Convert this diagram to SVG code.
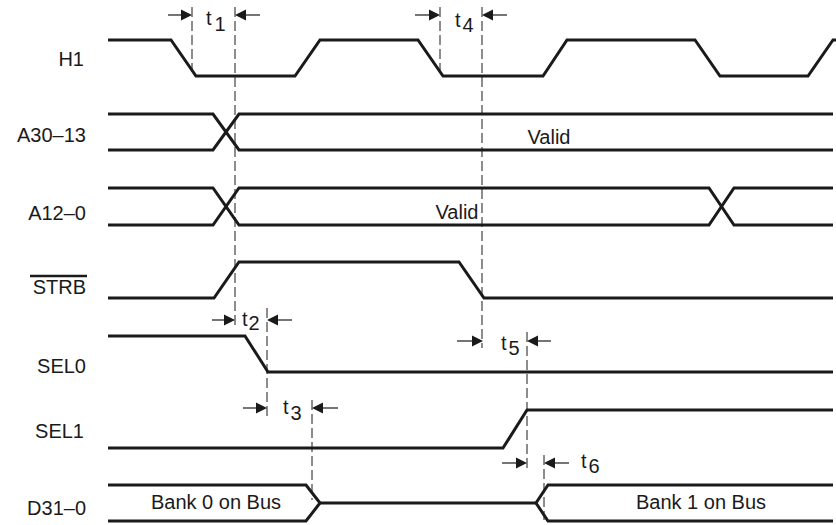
<svg xmlns="http://www.w3.org/2000/svg" width="836" height="525" viewBox="0 0 836 525">
<style>
.sig{fill:none;stroke:#1a1a1a;stroke-width:3;stroke-linejoin:miter}
.dash{fill:none;stroke:#1a1a1a;stroke-width:1;stroke-dasharray:10 4}
.sh{stroke:#1a1a1a;stroke-width:1.2}
.hd{fill:#1a1a1a}
.lbl{font-family:"Liberation Sans",Arial,sans-serif;font-size:20px;fill:#1a1a1a;text-anchor:end}
.txt{font-family:"Liberation Sans",Arial,sans-serif;font-size:20px;fill:#1a1a1a}
.mid{text-anchor:middle}
</style>
<rect width="836" height="525" fill="#fff"/>
<g id="labels">
<text class="lbl" x="84" y="66">H1</text>
<text class="lbl" x="86" y="142">A30–13</text>
<text class="lbl" x="86" y="220">A12–0</text>
<text class="lbl" x="86" y="294">STRB</text>
<line x1="30" y1="276" x2="87" y2="276" stroke="#1a1a1a" stroke-width="2.5"/>
<text class="lbl" x="86" y="373">SEL0</text>
<text class="lbl" x="84" y="438">SEL1</text>
<text class="lbl" x="86" y="515">D31–0</text>
</g>
<g id="H1">
<polyline class="sig" points="108,40 171,40 196,76 295,76 320,40 418,40 443,76 543,76 567,40 695,40 720,76 808,76 833,40 836,40"/>
</g>
<g id="A30-13">
<polyline class="sig" points="108,114 213,114 239,150 833,150"/>
<polyline class="sig" points="108,150 213,150 239,114 833,114"/>
<text class="txt mid" x="549" y="144">Valid</text>
</g>
<g id="A12-0">
<polyline class="sig" points="108,188 213,188 239,225 709,225 734,188 833,188"/>
<polyline class="sig" points="108,225 213,225 239,188 709,188 734,225 833,225"/>
<text class="txt mid" x="457" y="219">Valid</text>
</g>
<g id="STRB">
<polyline class="sig" points="108,298 214,298 239,262 459,262 484,298 833,298"/>
</g>
<g id="SEL0">
<polyline class="sig" points="108,336 245,336 268,372 833,372"/>
</g>
<g id="SEL1">
<polyline class="sig" points="108,448 503,448 527,410 833,410"/>
</g>
<g id="D31-0">
<polyline class="sig" points="108,485 306,485 320,503 306,521 108,521"/>
<polyline class="sig" points="320,503 536,503"/>
<polyline class="sig" points="833,485 548,485 536,503 548,521 833,521"/>
<text class="txt mid" x="216" y="509">Bank 0 on Bus</text>
<text class="txt mid" x="701" y="509">Bank 1 on Bus</text>
</g>
<g id="connectors">
<line class="dash" x1="192" y1="7" x2="192" y2="72"/>
<line class="dash" x1="235" y1="7" x2="235" y2="328"/>
<line class="dash" x1="440" y1="7" x2="440" y2="72"/>
<line class="dash" x1="482" y1="7" x2="482" y2="348"/>
<line class="dash" x1="267" y1="308" x2="267" y2="418"/>
<line class="dash" x1="312" y1="400" x2="312" y2="500"/>
<line class="dash" x1="527" y1="332" x2="527" y2="472"/>
<line class="dash" x1="544" y1="455" x2="544" y2="520"/>
<line class="sh" x1="168" y1="15" x2="182" y2="15"/><polygon class="hd" points="181,9.5 192,15 181,20.5"/>
<line class="sh" x1="246" y1="15" x2="260" y2="15"/><polygon class="hd" points="246,9.5 235,15 246,20.5"/>
<line class="sh" x1="415" y1="15" x2="430" y2="15"/><polygon class="hd" points="429,9.5 440,15 429,20.5"/>
<line class="sh" x1="493" y1="15" x2="507" y2="15"/><polygon class="hd" points="493,9.5 482,15 493,20.5"/>
<line class="sh" x1="212" y1="320" x2="225" y2="320"/><polygon class="hd" points="224,314.5 235,320 224,325.5"/>
<line class="sh" x1="278" y1="320" x2="292" y2="320"/><polygon class="hd" points="278,314.5 267,320 278,325.5"/>
<line class="sh" x1="243" y1="408" x2="257" y2="408"/><polygon class="hd" points="256,402.5 267,408 256,413.5"/>
<line class="sh" x1="323" y1="408" x2="338" y2="408"/><polygon class="hd" points="323,402.5 312,408 323,413.5"/>
<line class="sh" x1="457" y1="341" x2="473" y2="341"/><polygon class="hd" points="472,335.5 483,341 472,346.5"/>
<line class="sh" x1="538" y1="341" x2="551" y2="341"/><polygon class="hd" points="538,335.5 527,341 538,346.5"/>
<line class="sh" x1="502" y1="463" x2="517" y2="463"/><polygon class="hd" points="516,457.5 527,463 516,468.5"/>
<line class="sh" x1="555" y1="463" x2="569" y2="463"/><polygon class="hd" points="555,457.5 544,463 555,468.5"/>
</g>
<g id="timing-labels">
<text class="txt" x="206" y="25">t<tspan dx="3" dy="6">1</tspan></text>
<text class="txt" x="455" y="27">t<tspan dx="2" dy="5">4</tspan></text>
<text class="txt" x="242" y="326">t<tspan dx="1" dy="4">2</tspan></text>
<text class="txt" x="283" y="414">t<tspan dx="2" dy="6">3</tspan></text>
<text class="txt" x="501" y="350">t<tspan dx="2" dy="5">5</tspan></text>
<text class="txt" x="581" y="468">t<tspan dx="2" dy="5">6</tspan></text>
</g>
</svg>
